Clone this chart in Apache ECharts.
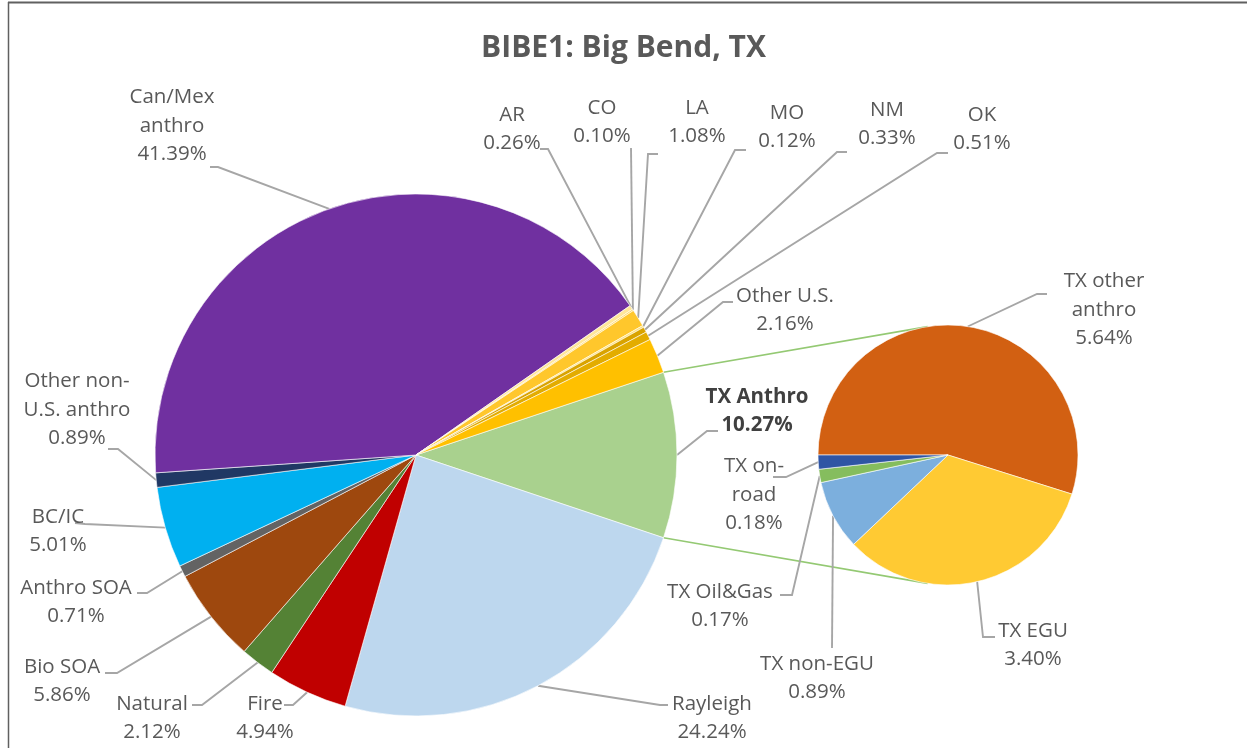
<!DOCTYPE html>
<html><head><meta charset="utf-8">
<script src="https://cdn.jsdelivr.net/npm/echarts@6/dist/echarts.min.js"></script>
<style>html,body{margin:0;padding:0;background:#fff}#c{width:1247px;height:748px}</style>
</head><body><div id="c"></div><script>
// ---- DATA ----
const mainCategories = ['TX Anthro','Rayleigh','Fire','Natural','Bio SOA','Anthro SOA','BC/IC','Other non-\nU.S. anthro','Can/Mex\nanthro','AR','CO','LA','MO','NM','OK','Other U.S.'];
const mainValues = [10.27,24.24,4.94,2.12,5.86,0.71,5.01,0.89,41.39,0.26,0.10,1.08,0.12,0.33,0.51,2.16];
const txCategories = ['TX other\nanthro','TX EGU','TX non-EGU','TX Oil&Gas','TX on-\nroad'];
const txValues = [5.64,3.40,0.89,0.17,0.18];
const chartTitle = 'BIBE1: Big Bend, TX';

// ---- STYLE / LAYOUT ----
const mainColors = ['#A9D18E','#BDD7EE','#C00000','#548235','#9E480E','#636363','#00B0F0','#203864','#7030A0','#FFE699','#FFD966','#FFC72C','#FFE07A','#D9A300','#E3AC00','#FFC000'];
const txColors = ['#D26012','#FFCA33','#7CAFDD','#85BD5E','#2F55A4'];
const C1 = [416,455], R1 = 261, C2 = [948,455], R2 = 130;
const FONT = 'Open Sans';

const mainLabelPos = [
  {x:757,y:411,line:[[707,431],[718,431]]},
  {x:712,y:718,line:[[660,705],[668,705]]},
  {x:265,y:718,line:[[293,705],[284,705]]},
  {x:152,y:718,line:[[202,705],[192,705]]},
  {x:62,y:681,line:[[117,673],[105,673]]},
  {x:76,y:602,line:[[147,593],[137,593]]},
  {x:58,y:531,line:[[85,524],[75,523]]},
  {x:77,y:410,line:[[118,449],[108,449]]},
  {x:172,y:126,line:[[218,167],[210,167]]},
  {x:512,y:129,line:[[548,149],[540,149]]},
  {x:602,y:122,line:[[631,148]]},
  {x:697,y:122,line:[[648,154],[658,154]]},
  {x:787,y:127,line:[[735,150],[746,150]]},
  {x:887,y:124,line:[[837,152],[847,152]]},
  {x:982,y:129,line:[[937,153],[948,153]]},
  {x:785,y:310,line:[[723,302],[733,302]]}
];
const txLabelPos = [
  {x:1104,y:310,line:[[1037,294],[1047,294]]},
  {x:1033,y:645,line:[[983,637],[995,637]]},
  {x:817,y:678,line:[[832,648]]},
  {x:720,y:606,line:[[792,595],[780,595]]},
  {x:754,y:495,line:[[786,477],[773,477]]}
];

function sum(a){return a.reduce((s,v)=>s+v,0);}
const mainStart = 360*mainValues[0]/sum(mainValues)/2;
const txStart = 180;
function angles(values,start){
  const t=sum(values); let a=start;
  return values.map(v=>{const span=v/t*360; const r={from:a,to:a-span,mid:a-span/2}; a-=span; return r;});
}
function pt(c,r,deg){const d=deg*Math.PI/180; return [c[0]+r*Math.cos(d), c[1]-r*Math.sin(d)];}
const mainAng = angles(mainValues, mainStart);
const txAng = angles(txValues, txStart);
const mainEdge = mainAng.map(a=>pt(C1,R1,a.mid));
const txEdge = txAng.map(a=>pt(C2,R2,a.mid));

const labelBase = {show:true, position:'outside', fontFamily:FONT, fontSize:20.5, lineHeight:28.5, color:'#595959', align:'center',
  formatter: p => p.name + '\n' + p.value.toFixed(2) + '%'};

const mainData = mainValues.map((v,i)=>{
  const d = {name: mainCategories[i], value: v, itemStyle:{color: mainColors[i]}};
  if (i===0) d.label = {fontWeight:'bold', color:'#404040'};
  return d;
});
const txData = txValues.map((v,i)=>({name: txCategories[i], value: v, itemStyle:{color: txColors[i]}}));

// connector lines between the two pies (from main-pie slice edges to secondary pie)
const conTop = [pt(C1,R1,mainAng[0].from), pt(C2,R2,99)];
const conBot = [pt(C1,R1,mainAng[0].to), pt(C2,R2,-99)];

const leader = {show:true, length:10, length2:10, lineStyle:{color:'#A6A6A6', width:1.9}};

const chart = echarts.init(document.getElementById('c'), null, {renderer:'canvas'});
chart.setOption({
  backgroundColor:'#fff',
  animation:false,
  title:{text:chartTitle, left:'center', top:28, textStyle:{fontFamily:FONT, fontWeight:'bold', fontSize:30, color:'#595959'}},
  graphic:[
    {type:'line', shape:{x1:8, y1:2.5, x2:1247, y2:2.5}, style:{stroke:'#606060', lineWidth:2}, silent:true},
    {type:'line', shape:{x1:8.5, y1:2, x2:8.5, y2:748}, style:{stroke:'#606060', lineWidth:1.5}, silent:true},
    {type:'polyline', shape:{points:conTop}, style:{stroke:'#94C973', lineWidth:1.6, fill:null}, silent:true, z:0},
    {type:'polyline', shape:{points:conBot}, style:{stroke:'#94C973', lineWidth:1.6, fill:null}, silent:true, z:0}
  ],
  series:[
    {type:'pie', center:C1, radius:R1, startAngle:mainStart, clockwise:true, avoidLabelOverlap:false,
     itemStyle:{borderColor:'#fff', borderWidth:0.6},
     label:labelBase,
     labelLine:leader,
     labelLayout: p => {const L=mainLabelPos[p.dataIndex]; return {x:L.x, y:L.y, align:'center', verticalAlign:'middle', labelLinePoints:[mainEdge[p.dataIndex], ...L.line]};},
     data: mainData},
    {type:'pie', center:C2, radius:R2, startAngle:txStart, clockwise:true, avoidLabelOverlap:false,
     itemStyle:{borderColor:'#fff', borderWidth:0.6},
     label:labelBase,
     labelLine:leader,
     labelLayout: p => {const L=txLabelPos[p.dataIndex]; return {x:L.x, y:L.y, align:'center', verticalAlign:'middle', labelLinePoints:[txEdge[p.dataIndex], ...L.line]};},
     data: txData}
  ]
});
</script></body></html>
